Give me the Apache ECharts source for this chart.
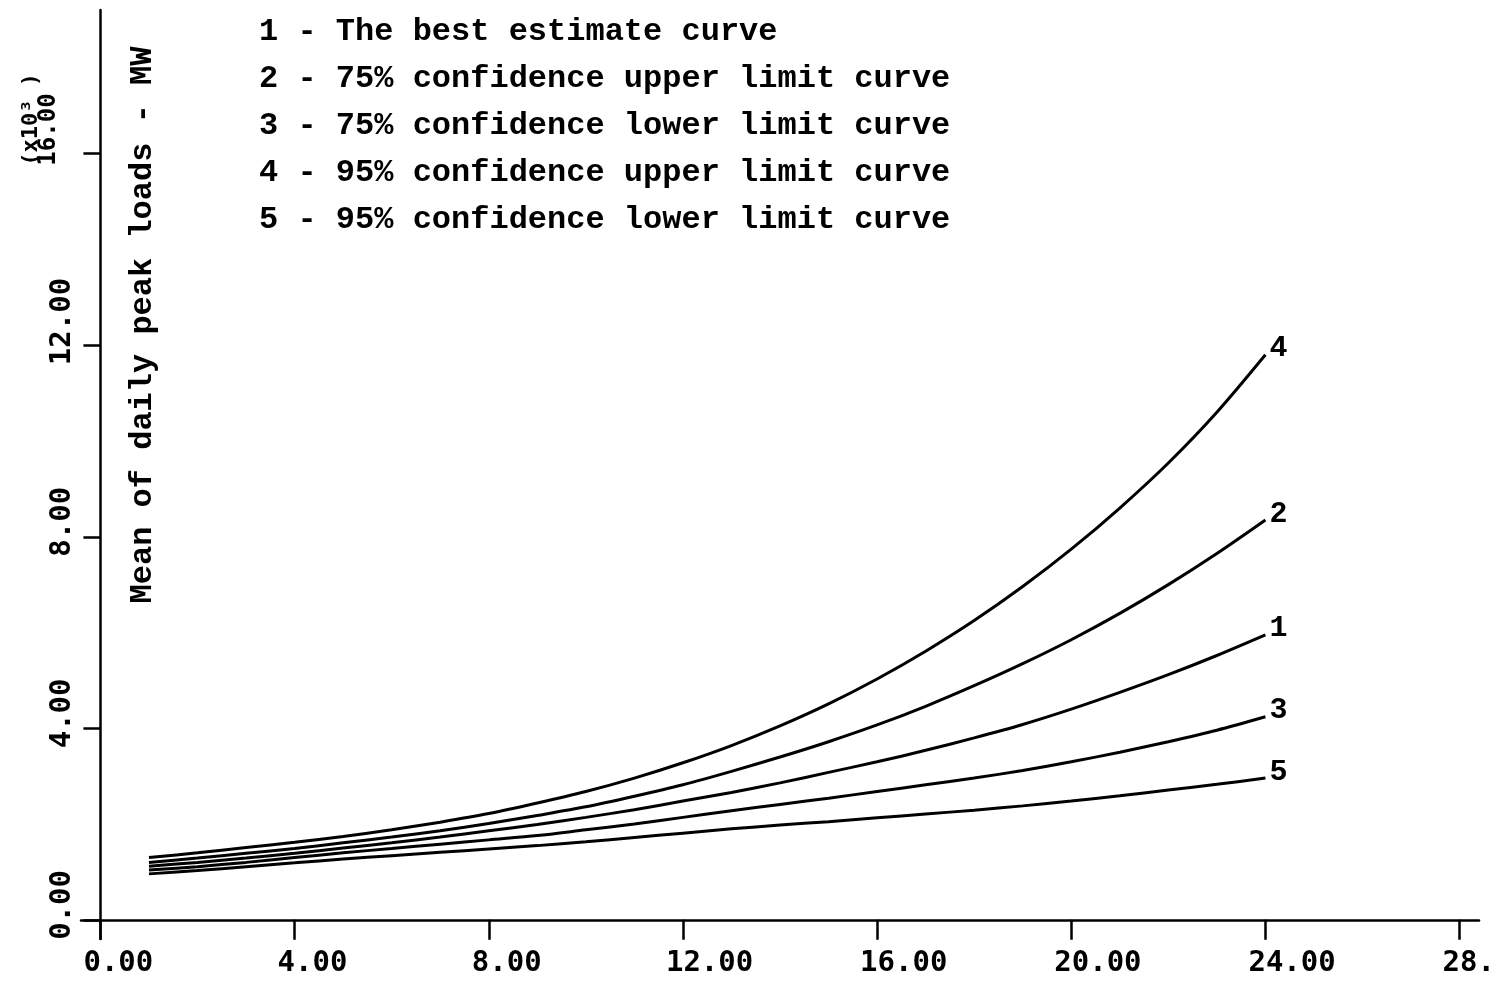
<!DOCTYPE html>
<html>
<head>
<meta charset="utf-8">
<script src="https://cdn.jsdelivr.net/npm/echarts@6/dist/echarts.min.js"></script>
<style>
  html, body { margin: 0; padding: 0; background: #fff; }
  #chart { width: 1500px; height: 982px; }
</style>
</head>
<body>
<div id="chart"></div>
<script>
// Forecast of mean daily peak load (thousands of MW) against time
const hours = [1, 2, 3, 4, 5, 6, 7, 8, 9, 10, 11, 12, 13, 14, 15, 16, 17, 18, 19, 20, 21, 22, 23, 24];

const curveTags = ['1', '2', '3', '4', '5'];
const curveNames = [
  'The best estimate curve',
  '75% confidence upper limit curve',
  '75% confidence lower limit curve',
  '95% confidence upper limit curve',
  '95% confidence lower limit curve'
];

const bestEstimate = [1.12, 1.20, 1.29, 1.39, 1.50, 1.61, 1.73, 1.86, 1.99, 2.14, 2.30, 2.48,
                      2.66, 2.86, 3.08, 3.30, 3.54, 3.80, 4.08, 4.40, 4.75, 5.12, 5.52, 5.95];
const upper75 = [1.20, 1.29, 1.39, 1.49, 1.61, 1.73, 1.86, 2.01, 2.18, 2.36, 2.58, 2.82,
                 3.10, 3.40, 3.72, 4.07, 4.46, 4.89, 5.35, 5.85, 6.40, 7.00, 7.65, 8.35];
const lower75 = [1.04, 1.11, 1.20, 1.30, 1.40, 1.49, 1.58, 1.67, 1.76, 1.88, 2.00, 2.14,
                 2.28, 2.41, 2.54, 2.68, 2.82, 2.96, 3.12, 3.30, 3.50, 3.72, 3.96, 4.24];
const upper95 = [1.30, 1.40, 1.51, 1.62, 1.74, 1.88, 2.04, 2.22, 2.44, 2.68, 2.96, 3.28,
                 3.64, 4.05, 4.51, 5.03, 5.61, 6.25, 6.96, 7.74, 8.60, 9.54, 10.60, 11.80];
const lower95 = [0.96, 1.03, 1.11, 1.19, 1.27, 1.34, 1.41, 1.48, 1.55, 1.63, 1.72, 1.81,
                 1.90, 1.98, 2.05, 2.13, 2.21, 2.29, 2.38, 2.48, 2.59, 2.71, 2.83, 2.96];

const xTicks = [0, 4, 8, 12, 16, 20, 24, 28];
const xTickLabels = ['0.00', '4.00', '8.00', '12.00', '16.00', '20.00', '24.00', '28.'];
const yTicks = [0, 4, 8, 12, 16];
const yTickLabels = ['0.00', '4.00', '8.00', '12.00', '16.00'];
const yMultiplier = '(x10\u00B3 )';
const yTitle = 'Mean of daily peak loads - MW';

const curves = [bestEstimate, upper75, lower75, upper95, lower95];

const tickFont = 'DejaVu Sans Mono';
const textFont = 'Liberation Mono';

const chart = echarts.init(document.getElementById('chart'), null, { renderer: 'canvas' });

const series = curves.map((vals, i) => ({
  name: curveNames[i],
  type: 'line',
  data: hours.map((h, k) => [h, vals[k]]),
  showSymbol: false,
  smooth: 0.3,
  lineStyle: { color: '#000', width: 3 },
  itemStyle: { color: '#000' },
  emphasis: { disabled: true },
  silent: true,
  endLabel: {
    show: true,
    formatter: () => curveTags[i],
    color: '#000',
    fontFamily: textFont,
    fontWeight: 'bold',
    fontSize: 30,
    distance: 4,
    offset: [0, -6]
  }
}));

chart.setOption({
  animation: false,
  backgroundColor: '#fff',
  grid: { left: 81, right: 21, top: 10, bottom: 43, containLabel: false, outerBoundsMode: 'none' },
  legend: {
    orient: 'vertical',
    left: 249,
    top: 9,
    icon: 'none',
    itemWidth: 0,
    itemHeight: 0,
    itemGap: 11,
    selectedMode: false,
    data: curveNames,
    formatter: name => curveTags[curveNames.indexOf(name)] + ' - ' + name,
    textStyle: { fontFamily: textFont, fontWeight: 'bold', fontSize: 32, color: '#000', lineHeight: 36 }
  },
  xAxis: {
    type: 'value',
    min: -0.4,
    max: 28.4,
    axisLine: { onZero: true, lineStyle: { color: '#000', width: 2.5 } },
    axisTick: { customValues: xTicks, length: 20, lineStyle: { color: '#000', width: 2.5 } },
    axisLabel: {
      customValues: xTicks,
      formatter: v => xTickLabels[xTicks.indexOf(v)],
      align: 'left',
      padding: [0, 0, 0, -17],
      margin: 10,
      color: '#000',
      fontFamily: tickFont,
      fontWeight: 'bold',
      fontSize: 29
    },
    splitLine: { show: false }
  },
  yAxis: {
    type: 'value',
    min: -0.4,
    max: 19,
    axisLine: { onZero: true, lineStyle: { color: '#000', width: 2.5 } },
    axisTick: { customValues: yTicks, length: 17, lineStyle: { color: '#000', width: 2.5 } },
    axisLabel: {
      customValues: yTicks,
      rotate: 90,
      align: 'left',
      padding: [0, 0, 0, -20],
      margin: 4,
      color: '#000',
      fontFamily: tickFont,
      fontWeight: 'bold',
      fontSize: 29,
      formatter: v => {
        const s = yTickLabels[yTicks.indexOf(v)];
        if (v !== 16) return s;
        return '{m|' + yMultiplier + '}\n{v|' + s + '}\n{g| }';
      },
      rich: {
        m: { fontFamily: tickFont, fontWeight: 'bold', fontSize: 22, lineHeight: 17, padding: [0, 0, 0, 8], color: '#000' },
        v: { fontFamily: tickFont, fontWeight: 'bold', fontSize: 24, lineHeight: 17, padding: [0, 0, 0, 8], color: '#000' },
        g: { fontSize: 6, lineHeight: 20 }
      }
    },
    splitLine: { show: false }
  },
  graphic: [{
    type: 'text',
    x: 143,
    y: 325,
    rotation: Math.PI / 2,
    style: {
      text: yTitle,
      fill: '#000',
      font: 'bold 32px "Liberation Mono"',
      align: 'center',
      verticalAlign: 'middle'
    },
    silent: true
  }],
  series: series
});
</script>
</body>
</html>
